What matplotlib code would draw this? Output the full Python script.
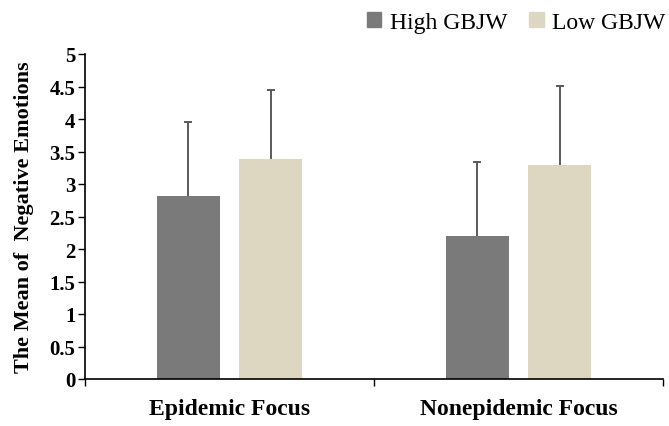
import numpy as np
import matplotlib.pyplot as plt
from matplotlib.patches import Patch

# group means and error bars (upper only)
categories = ["Epidemic Focus", "Nonepidemic Focus"]
high_mean = [2.81, 2.20]
high_err = [1.15, 1.14]
low_mean = [3.39, 3.29]
low_err = [1.06, 1.22]
yticks = [0, 0.5, 1, 1.5, 2, 2.5, 3, 3.5, 4, 4.5, 5]
ytick_labels = ["0", "0.5", "1", "1.5", "2", "2.5", "3", "3.5", "4", "4.5", "5"]

plt.rcParams['font.family'] = ['Liberation Serif', 'DejaVu Serif']

fig = plt.figure(figsize=(6.69, 4.27), dpi=100)
ax = fig.add_axes([85 / 669, 47 / 427, 578 / 669, 325 / 427])

x = np.arange(len(categories))
w = 0.221
off = 0.142
ax.bar(x - off, high_mean, w, color="#7a7a7a", zorder=2)
ax.bar(x + off, low_mean, w, color="#ddd6c1", zorder=2)
# symmetric bars drawn behind the columns, so only the upper half shows
ax.errorbar(x - off, high_mean, yerr=high_err, fmt="none",
            ecolor="#5a5a5a", elinewidth=1.4, capsize=2.6, capthick=1.4, zorder=1)
ax.errorbar(x + off, low_mean, yerr=low_err, fmt="none",
            ecolor="#5a5a5a", elinewidth=1.4, capsize=2.6, capthick=1.4, zorder=1)

ax.set_xlim(-0.5, 1.5)
ax.set_ylim(0, 5)
ax.set_yticks(yticks)
ax.set_yticklabels(ytick_labels, fontsize=15, fontweight="bold")
ax.set_xticks(x)
ax.set_xticklabels(categories, fontsize=17, fontweight="bold")
ax.tick_params(axis="x", length=0, pad=14)
ax.set_xticks([-0.5, 0.5, 1.5], minor=True)
ax.tick_params(axis="x", which="minor", length=5, direction="out", width=1)
ax.tick_params(axis="y", length=5, width=1, pad=2)

for s in ["top", "right"]:
    ax.spines[s].set_visible(False)
ax.spines["left"].set_linewidth(1.2)
ax.spines["bottom"].set_linewidth(1.2)

ax.set_ylabel("The Mean of  Negative Emotions", fontsize=16, fontweight="bold", labelpad=11)

handles = [Patch(color="#7a7a7a", label="High GBJW"),
           Patch(color="#ddd6c1", label="Low GBJW")]
fig.legend(handles=handles, loc="upper right", bbox_to_anchor=(1.026, 1.02), ncol=2,
           frameon=False, fontsize=17, handlelength=0.6, handleheight=0.6,
           handletextpad=0.35, columnspacing=0.95)

fig.savefig("out.png", dpi=100)
